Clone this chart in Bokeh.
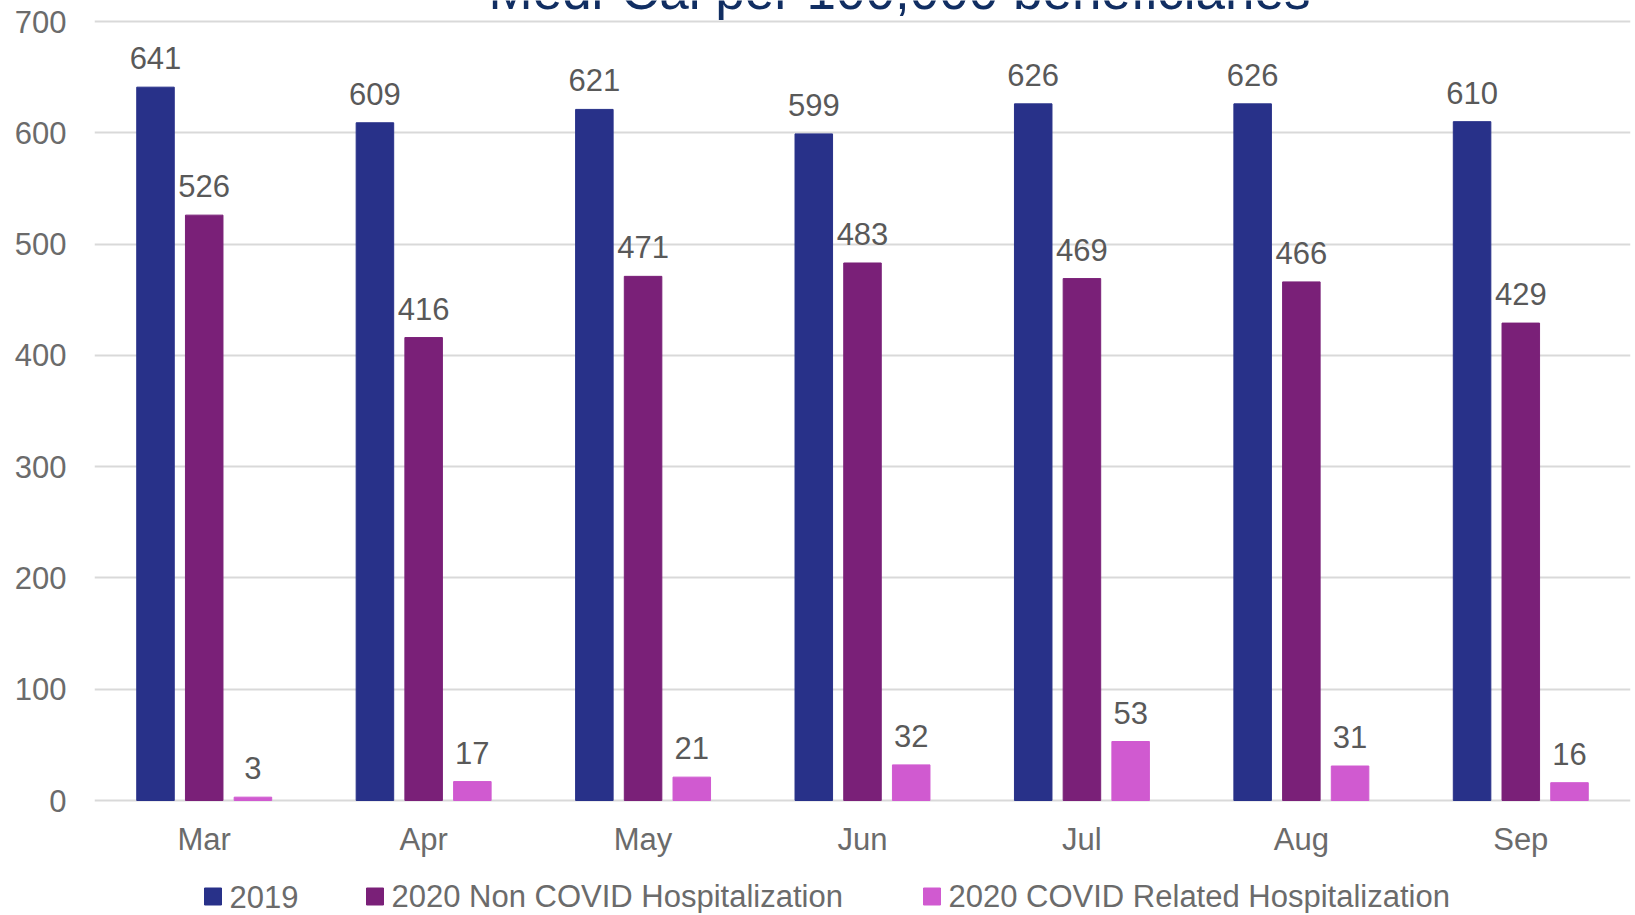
from bokeh.plotting import figure
from bokeh.models import ColumnDataSource, Range1d, LabelSet
from bokeh.transform import dodge
from bokeh.core.properties import value
from bokeh.embed import file_html
from bokeh.resources import INLINE

months = ["Mar", "Apr", "May", "Jun", "Jul", "Aug", "Sep"]
y2019 = [641, 609, 621, 599, 626, 626, 610]
non_covid = [526, 416, 471, 483, 469, 466, 429]
covid = [3, 17, 21, 32, 53, 31, 16]
series_names = ["2019", "2020 Non COVID Hospitalization", "2020 COVID Related Hospitalization"]
y_ticks = [0, 100, 200, 300, 400, 500, 600, 700]
title_text = "Medi-Cal per 100,000 beneficiaries"

colors = ["#283189", "#7a2078", "#d05ad0"]
FONT = "Liberation Sans"
GREY = "#595959"
AXGREY = "#6b6b6b"

# layout constants (pixels)
W, H = 1632, 913
LEFT, RIGHT = 94, 2
ZERO_Y = 800.0                      # pixel row of value 0 (from top)
PLOT_H = 779.0                      # pixels from value 0 to value 700
Y_TOP_VAL = 700
px_per_unit = PLOT_H / Y_TOP_VAL
y_max = ZERO_Y / px_per_unit
y_min = -(H - ZERO_Y) / px_per_unit
col_w = (W - LEFT - RIGHT) / len(months)

xc = [i + 0.5 for i in range(len(months))]
src = ColumnDataSource(dict(
    xc=xc, month=months, y2019=y2019, non_covid=non_covid, covid=covid,
    l2019=[str(v) for v in y2019], lnon=[str(v) for v in non_covid], lcov=[str(v) for v in covid],
))

p = figure(
    x_range=Range1d(0, len(months)), y_range=Range1d(y_min, y_max),
    width=W, height=H, output_backend="svg", toolbar_location=None,
    x_axis_location=None,
    min_border_left=LEFT, min_border_right=RIGHT, min_border_top=0, min_border_bottom=0,
)
p.outline_line_color = None
p.background_fill_color = "white"
p.border_fill_color = "white"

offsets = [-0.222, 0.0, 0.222]
fields = ["y2019", "non_covid", "covid"]
labels = ["l2019", "lnon", "lcov"]
for off, f, lab, c in zip(offsets, fields, labels, colors):
    xx = dodge("xc", off)
    p.vbar(x=xx, top=f, bottom=0, width=0.171, source=src, fill_color=c, line_color=c)
    ls = LabelSet(x=xx, y=f, text=lab, source=src, text_align="center",
                  text_baseline="alphabetic", y_offset=18,
                  text_font=value(FONT), text_font_size=value("31px"), text_color=GREY)
    p.add_layout(ls)

# y axis
p.yaxis.ticker = y_ticks
ax = p.yaxis[0]
ax.axis_line_color = None
ax.major_tick_line_color = None
ax.minor_tick_line_color = None
ax.major_tick_out = 0
ax.major_tick_in = 0
ax.major_label_text_font = FONT
ax.major_label_text_font_size = "31px"
ax.major_label_text_color = AXGREY
ax.major_label_standoff = 28

p.xgrid.grid_line_color = None
p.ygrid.grid_line_color = "#d9d9d9"
p.ygrid.grid_line_width = 2

# category labels under the bars
p.text(x="xc", y=-39 / px_per_unit, text="month", source=src, text_align="center",
       text_baseline="alphabetic", text_font=value(FONT), text_font_size=value("31px"),
       text_color=AXGREY)

# legend drawn by hand (squares + labels), placed as in the reference
sq_left_px = [110, 272, 829]       # left edge of each square, px from frame left
leg_src = ColumnDataSource(dict(
    sx=[(v + 8.5) / col_w for v in sq_left_px],
    tx=[(v + 25) / col_w for v in sq_left_px],
    y=[-96 / px_per_unit] * 3,
    name=series_names, color=colors,
))
p.rect(x="sx", y="y", width=17, height=17, width_units="screen", height_units="screen",
       fill_color="color", line_color="color", source=leg_src)
p.text(x="tx", y="y", text="name", source=leg_src, text_align="left", text_baseline="middle",
       text_font=value(FONT), text_font_size=value("31px"), text_color=AXGREY)

# title (partially cut at the top edge, as in the reference)
p.text(x=[(899 - LEFT) / col_w], y=[810 / px_per_unit], text=[title_text],
       text_align="center", text_baseline="alphabetic",
       text_font=value(FONT), text_font_size=value("53px"), text_color="#112e62")

open("out.html", "w").write(file_html(p, INLINE))
